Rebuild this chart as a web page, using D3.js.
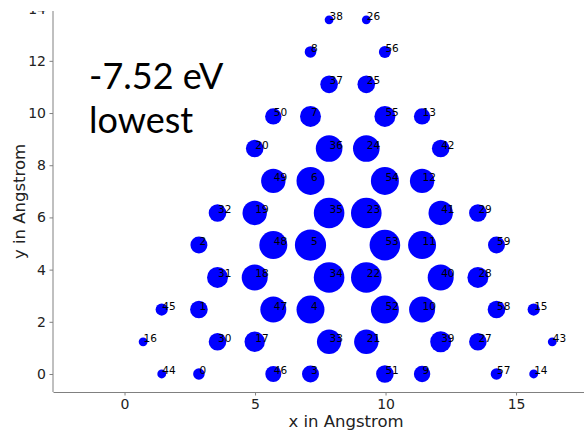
<!DOCTYPE html>
<html>
<head>
<meta charset="utf-8">
<script src="https://cdn.jsdelivr.net/npm/d3@7"></script>
<style>
    body { margin: 0; background: #fff; }
    svg { display: block; }
    .tick text { font-family: 'DejaVu Sans', sans-serif; font-size: 14px; fill: #222; }
    .tick line { stroke: #808080; }
    .domain { stroke: #808080; }
</style>
</head>
<body>
<div id="graph"></div>
<script>
// site index, x and y (Angstrom) and relative weight of each site
var siteIds = d3.range(60);
var siteX = [2.85, 2.85, 2.85, 7.125, 7.125, 7.125, 7.125, 7.125, 7.125, 11.4,
    11.4, 11.4, 11.4, 11.4, 15.675, 15.675, 0.7125, 4.9875, 4.9875, 4.9875,
    4.9875, 9.2625, 9.2625, 9.2625, 9.2625, 9.2625, 9.2625, 13.5375, 13.5375, 13.5375,
    3.5625, 3.5625, 3.5625, 7.8375, 7.8375, 7.8375, 7.8375, 7.8375, 7.8375, 12.1125,
    12.1125, 12.1125, 12.1125, 16.3875, 1.425, 1.425, 5.7, 5.7, 5.7, 5.7,
    5.7, 9.975, 9.975, 9.975, 9.975, 9.975, 9.975, 14.25, 14.25, 14.25];
var siteY = [0, 2.47, 4.94, 0, 2.47, 4.94, 7.40, 9.87, 12.34, 0,
    2.47, 4.94, 7.40, 9.87, 0, 2.47, 1.234, 1.234, 3.70, 6.17,
    8.64, 1.234, 3.70, 6.17, 8.64, 11.1, 13.57, 1.234, 3.70, 6.17,
    1.234, 3.70, 6.17, 1.234, 3.70, 6.17, 8.64, 11.1, 13.57, 1.234,
    3.70, 6.17, 8.64, 1.234, 0, 2.47, 0, 2.47, 4.94, 7.40,
    9.87, 0, 2.47, 4.94, 7.40, 9.87, 12.34, 0, 2.47, 4.94];
var siteWeight = [0.138, 0.318, 0.297, 0.297, 0.805, 1.0, 0.805, 0.453, 0.138, 0.276,
    0.694, 0.805, 0.612, 0.276, 0.080, 0.153, 0.080, 0.428, 0.694, 0.612,
    0.318, 0.612, 0.962, 0.962, 0.727, 0.318, 0.080, 0.318, 0.453, 0.318,
    0.318, 0.453, 0.318, 0.612, 0.962, 0.962, 0.727, 0.318, 0.080, 0.453,
    0.694, 0.612, 0.318, 0.080, 0.080, 0.153, 0.263, 0.694, 0.805, 0.612,
    0.276, 0.318, 0.805, 0.962, 0.805, 0.453, 0.148, 0.138, 0.318, 0.297];

var xTicks = [0, 5, 10, 15];
var yTicks = [0, 2, 4, 6, 8, 10, 12, 14];
var noteLines = ['-7.52 eV', 'lowest'];
var notePos = [-1.36, 10.92];

window.onload = start;

function start() {
    var width = 584;
    var height = 432;
    // the axes run on past the right edge of the picture
    var plotLeft = 53;
    var plotRight = 639;
    var plotTop = 11;
    var plotBottom = 392;

    var svg = d3.select('#graph')
        .append('svg')
        .attr('width', width)
        .attr('height', height);

    var xScale = d3.scaleLinear().domain([-2.74, 19.71]).range([plotLeft, plotRight]);
    var yScale = d3.scaleLinear().domain([-0.69, 13.91]).range([plotBottom, plotTop]);
    var rScale = d3.scaleSqrt().domain([0, 1]).range([0, 15.6]);

    var points = siteIds.map(function(i) {
        return { id: i, x: siteX[i], y: siteY[i], w: siteWeight[i] };
    });

    svg.append('g')
        .selectAll('circle')
        .data(points)
        .enter()
        .append('circle')
        .attr('cx', function(d) { return xScale(d.x); })
        .attr('cy', function(d) { return yScale(d.y); })
        .attr('r', function(d) { return rScale(d.w); })
        .attr('fill', '#0000ff');

    svg.append('g')
        .selectAll('text')
        .data(points)
        .enter()
        .append('text')
        .attr('x', function(d) { return xScale(d.x) + 0.5; })
        .attr('y', function(d) { return yScale(d.y); })
        .style('font-family', "'DejaVu Sans', sans-serif")
        .style('font-size', '10.5px')
        .attr('fill', '#000')
        .text(function(d) { return d.id; });

    // y axis (the 14 label is mostly hidden behind the area above the axes)
    var yAxis = d3.axisLeft(yScale).tickValues(yTicks).tickSize(3.5).tickPadding(3.5).tickSizeOuter(0);
    var yG = svg.append('g')
        .attr('transform', 'translate(' + plotLeft + ',0)')
        .call(yAxis);
    yG.select('.domain').remove();

    svg.append('rect')
        .attr('x', 0)
        .attr('y', 0)
        .attr('width', width)
        .attr('height', plotTop)
        .attr('fill', '#fff');

    svg.append('line')
        .attr('class', 'domain')
        .attr('x1', plotLeft).attr('x2', plotLeft)
        .attr('y1', plotBottom).attr('y2', plotTop);

    var xAxis = d3.axisBottom(xScale).tickValues(xTicks).tickSize(3.5).tickPadding(3.5).tickSizeOuter(0);
    svg.append('g')
        .attr('transform', 'translate(0,' + plotBottom + ')')
        .call(xAxis);

    svg.append('text')
        .attr('x', (plotLeft + plotRight) / 2)
        .attr('y', 427)
        .attr('text-anchor', 'middle')
        .style('font-family', "'DejaVu Sans', sans-serif")
        .style('font-size', '16.5px')
        .attr('fill', '#222')
        .text('x in Angstrom');

    svg.append('text')
        .attr('transform', 'translate(25,' + (plotTop + plotBottom) / 2 + ') rotate(-90)')
        .attr('text-anchor', 'middle')
        .style('font-family', "'DejaVu Sans', sans-serif")
        .style('font-size', '16.5px')
        .attr('fill', '#222')
        .text('y in Angstrom');

    var note = svg.append('text')
        .attr('x', xScale(notePos[0]))
        .attr('y', yScale(notePos[1]))
        .style('font-family', 'Lato, sans-serif')
        .style('font-size', '36px')
        .attr('fill', '#000');
    note.selectAll('tspan')
        .data(noteLines)
        .enter()
        .append('tspan')
        .attr('x', xScale(notePos[0]))
        .attr('dy', function(d, i) { return i == 0 ? 0 : 44; })
        .text(function(d) { return d; });
}
</script>
</body>
</html>
